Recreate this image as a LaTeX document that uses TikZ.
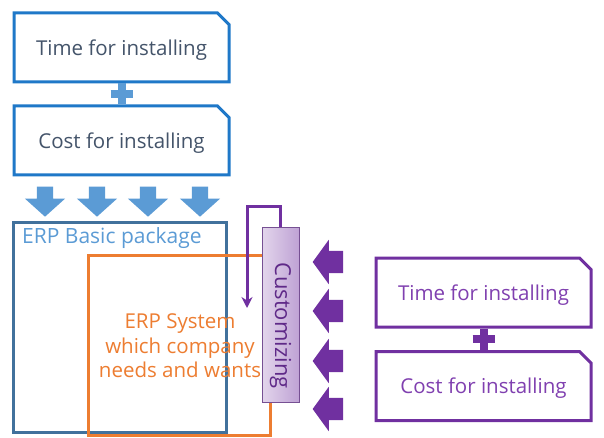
\documentclass[tikz,border=0pt]{standalone}
\usepackage{fontspec}
\setmainfont{Open Sans}
\usepackage{xcolor}
\usepackage{tikz}
\usetikzlibrary{shapes.misc, shapes.arrows, calc, arrows.meta}

\definecolor{boxblue}{HTML}{1F78C8}
\definecolor{arrblue}{HTML}{5B9BD5}
\definecolor{pkgblue}{HTML}{41719C}
\definecolor{txtgray}{HTML}{44546A}
\definecolor{sysorange}{HTML}{ED7D31}
\definecolor{custpurple}{HTML}{7030A0}
\definecolor{txtpurple}{HTML}{8040B0}

\begin{document}
\begin{tikzpicture}[x=1pt, y=-1pt,
    cbox/.style={chamfered rectangle, chamfered rectangle corners=north east,
        chamfered rectangle xsep=12pt, chamfered rectangle angle=45,
        line width=3pt, minimum width=215pt, minimum height=69pt, inner sep=0pt,
        text depth=0pt, font=\fontsize{20.5}{24}\selectfont},
    downarr/.style={single arrow, shape border rotate=270, fill=arrblue, draw=none,
        minimum height=30pt, minimum width=40pt, single arrow head extend=12pt,
        single arrow tip angle=96, inner sep=8pt},
    leftarr/.style={single arrow, shape border rotate=180, fill=custpurple, draw=none,
        minimum height=30pt, minimum width=44pt, single arrow head extend=11pt,
        single arrow tip angle=108, inner sep=11pt}]
        \useasboundingbox[fill=white] (0,0) rectangle (604,438);

        % installing boxes (blue)
        \node[cbox, draw=boxblue, text=txtgray] (t1) at (121.5,47.5) {Time for installing};
        \node[cbox, draw=boxblue, text=txtgray] (c1) at (121.5,140.5) {Cost for installing};
        \draw[arrblue, line width=8pt] (t1.south) -- (c1.north);
        \draw[arrblue, line width=8pt] ($(t1.south)!.5!(c1.north)+(-11,0)$) -- +(22,0);

        \foreach \x [count=\i] in {45,97,148,200}
            \node[downarr] (d\i) at (\x,198) {};

        % packages
        \node[draw=pkgblue, line width=3pt, minimum width=213pt, minimum height=210pt] (pkg) at (119.5,327) {};
        \node[anchor=north west, text=arrblue, inner sep=0pt, font=\fontsize{21}{24}\selectfont] (pkglbl) at (22,227) {ERP Basic package};

        \node[draw=sysorange, line width=3pt, minimum width=182pt, minimum height=180pt] (sys) at (179,345) {};
        \node[text=sysorange, align=center, font=\fontsize{20.5}{24.5}\selectfont] (syslbl) at (180,346)
            {ERP System\\which company\\needs and wants};

        \node[draw=custpurple!60!gray, line width=1pt, left color=custpurple!20, right color=custpurple!45,
            minimum width=37pt, minimum height=175pt] (cust) at (280.5,314.5) {};
        \node[rotate=-90, text=custpurple!85!black, font=\fontsize{22}{26}\selectfont] (custlbl) at ($(cust.center)+(0,11)$) {Customizing};

        \coordinate (back) at (247,308);
        \draw[custpurple, line width=3pt, -{Stealth[length=11pt, width=11pt]}] (cust.north) -- ++(0,-20) -| (back);

        % installing boxes (purple)
        \foreach \y [count=\i] in {262,311,361,409}
            \node[leftarr] (l\i) at (332,\y) {};

        \node[cbox, draw=custpurple, text=txtpurple] (t2) at (483.5,292.5) {Time for installing};
        \node[cbox, draw=custpurple, text=txtpurple] (c2) at (483.5,386) {Cost for installing};
        \draw[custpurple, line width=8pt] (t2.south) -- (c2.north);
        \draw[custpurple, line width=8pt] ($(t2.south)!.5!(c2.north)+(-11,0)$) -- +(22,0);
\end{tikzpicture}
\end{document}
